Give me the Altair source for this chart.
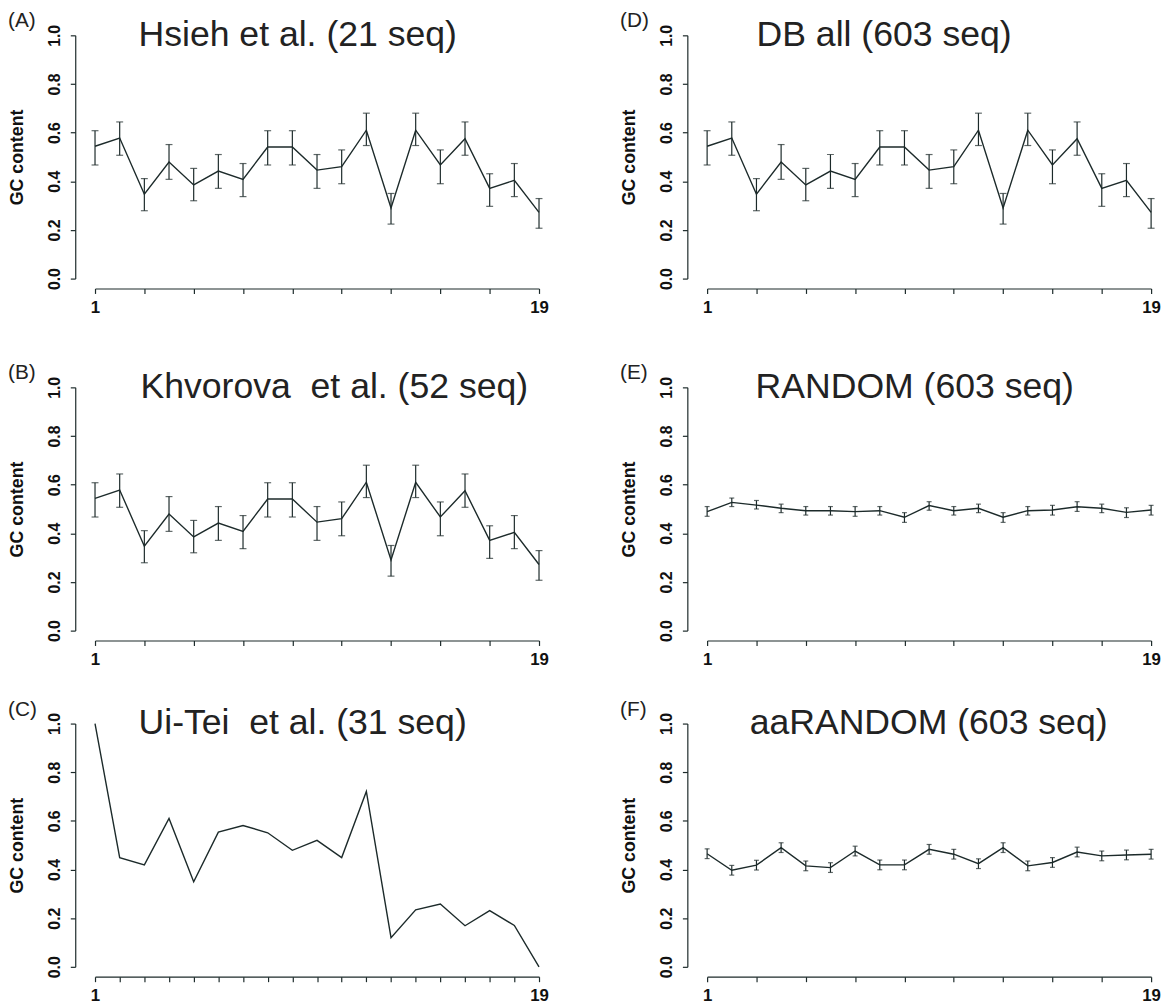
import altair as alt
import pandas as pd

# ---------------- data ----------------
positions = list(range(1, 20))

panel_letters = ["(A)", "(B)", "(C)", "(D)", "(E)", "(F)"]
panel_titles = [
    "Hsieh et al. (21 seq)",
    "Khvorova\u00a0 et al. (52 seq)",
    "Ui-Tei\u00a0 et al. (31 seq)",
    "DB all (603 seq)",
    "RANDOM (603 seq)",
    "aaRANDOM (603 seq)",
]

# (A) Hsieh et al.
hsieh_mean = [0.544, 0.578, 0.347, 0.479, 0.385, 0.442, 0.408, 0.541, 0.541, 0.446,
              0.460, 0.610, 0.290, 0.610, 0.467, 0.575, 0.371, 0.404, 0.272]
hsieh_low = [0.467, 0.507, 0.279, 0.408, 0.320, 0.371, 0.337, 0.467, 0.467, 0.371,
             0.390, 0.547, 0.224, 0.547, 0.390, 0.507, 0.297, 0.337, 0.207]
hsieh_high = [0.608, 0.644, 0.411, 0.551, 0.453, 0.510, 0.473, 0.608, 0.608, 0.510,
              0.529, 0.680, 0.350, 0.680, 0.529, 0.644, 0.431, 0.473, 0.329]

# (B) Khvorova et al. (drawn identical to A in the figure)
khvorova_mean = [0.544, 0.578, 0.347, 0.479, 0.385, 0.442, 0.408, 0.541, 0.541, 0.446,
                 0.460, 0.610, 0.290, 0.610, 0.467, 0.575, 0.371, 0.404, 0.272]
khvorova_low = [0.467, 0.507, 0.279, 0.408, 0.320, 0.371, 0.337, 0.467, 0.467, 0.371,
                0.390, 0.547, 0.224, 0.547, 0.390, 0.507, 0.297, 0.337, 0.207]
khvorova_high = [0.608, 0.644, 0.411, 0.551, 0.453, 0.510, 0.473, 0.608, 0.608, 0.510,
                 0.529, 0.680, 0.350, 0.680, 0.529, 0.644, 0.431, 0.473, 0.329]

# (C) Ui-Tei et al. (no error bars)
uitei_mean = [1.000, 0.449, 0.419, 0.610, 0.350, 0.554, 0.581, 0.551, 0.479, 0.520,
              0.449, 0.721, 0.120, 0.234, 0.258, 0.169, 0.231, 0.170, 0.000]

# (D) DB all
dball_mean = [0.544, 0.578, 0.347, 0.479, 0.385, 0.442, 0.408, 0.541, 0.541, 0.446,
              0.460, 0.610, 0.290, 0.610, 0.467, 0.575, 0.371, 0.404, 0.272]
dball_low = [0.467, 0.507, 0.279, 0.408, 0.320, 0.371, 0.337, 0.467, 0.467, 0.371,
             0.390, 0.547, 0.224, 0.547, 0.390, 0.507, 0.297, 0.337, 0.207]
dball_high = [0.608, 0.644, 0.411, 0.551, 0.453, 0.510, 0.473, 0.608, 0.608, 0.510,
              0.529, 0.680, 0.350, 0.680, 0.529, 0.644, 0.431, 0.473, 0.329]

# (E) RANDOM
random_mean = [0.489, 0.527, 0.516, 0.503, 0.493, 0.493, 0.489, 0.493, 0.466, 0.514,
               0.493, 0.503, 0.466, 0.493, 0.496, 0.509, 0.503, 0.486, 0.496]
random_low = [0.470, 0.510, 0.500, 0.485, 0.475, 0.475, 0.470, 0.475, 0.445, 0.495,
              0.475, 0.485, 0.445, 0.475, 0.475, 0.490, 0.485, 0.465, 0.475]
random_high = [0.510, 0.545, 0.535, 0.520, 0.510, 0.510, 0.510, 0.510, 0.485, 0.530,
               0.510, 0.520, 0.485, 0.510, 0.515, 0.530, 0.520, 0.505, 0.515]

# (F) aaRANDOM
aarandom_mean = [0.465, 0.397, 0.418, 0.490, 0.415, 0.408, 0.476, 0.419, 0.419, 0.483,
                 0.463, 0.424, 0.490, 0.415, 0.429, 0.472, 0.456, 0.460, 0.463]
aarandom_low = [0.445, 0.377, 0.398, 0.470, 0.395, 0.388, 0.456, 0.399, 0.399, 0.463,
                0.443, 0.404, 0.470, 0.395, 0.409, 0.452, 0.436, 0.440, 0.443]
aarandom_high = [0.485, 0.417, 0.438, 0.510, 0.435, 0.428, 0.496, 0.439, 0.439, 0.503,
                 0.483, 0.444, 0.510, 0.435, 0.449, 0.492, 0.476, 0.480, 0.483]

y_ticks = [0.0, 0.2, 0.4, 0.6, 0.8, 1.0]

# ---------------- styling ----------------
INK = "#1c2a2a"
FONT = "Liberation Sans"
PW, PH = 449, 246
title_dx = [44, 46, 44, 50, 49, 43]


def panel(idx, mean, low=None, high=None, cap=7):
    df = pd.DataFrame({"pos": positions, "gc": mean})
    if low is not None:
        df["lo"] = low
        df["hi"] = high

    x = alt.X(
        "pos:Q",
        scale=alt.Scale(domain=[1, 19], nice=False, zero=False),
        axis=alt.Axis(
            values=positions,
            labelExpr="datum.value == 1 || datum.value == 19 ? datum.label : ''",
            title=None,
        ),
    )
    y = alt.Y(
        "gc:Q",
        scale=alt.Scale(domain=[0, 1], nice=False, zero=False),
        axis=alt.Axis(values=y_ticks, format=".1f", title="GC content"),
    )
    base = alt.Chart(df)
    layers = [base.mark_line(color=INK, strokeWidth=1.4).encode(x=x, y=y)]
    if low is not None:
        layers.append(
            base.mark_rule(color=INK, strokeWidth=1.2).encode(
                x="pos:Q", y="lo:Q", y2="hi:Q"
            )
        )
        layers.append(
            base.mark_tick(color=INK, orient="horizontal", size=cap, thickness=1.2).encode(
                x="pos:Q", y="lo:Q"
            )
        )
        layers.append(
            base.mark_tick(color=INK, orient="horizontal", size=cap, thickness=1.2).encode(
                x="pos:Q", y="hi:Q"
            )
        )
    letter = alt.Chart(pd.DataFrame({"t": [panel_letters[idx]]})).mark_text(
        align="left", baseline="middle", fontSize=21, font=FONT, color="#222222"
    ).encode(text="t:N", x=alt.value(-88), y=alt.value(-14))
    ttl = alt.Chart(pd.DataFrame({"t": [panel_titles[idx]]})).mark_text(
        align="left", baseline="alphabetic", fontSize=36, font=FONT, color="#222222"
    ).encode(text="t:N", x=alt.value(title_dx[idx]), y=alt.value(11))
    layers += [letter, ttl]
    return alt.layer(*layers).properties(width=PW, height=PH)


pA = panel(0, hsieh_mean, hsieh_low, hsieh_high)
pB = panel(1, khvorova_mean, khvorova_low, khvorova_high)
pC = panel(2, uitei_mean)
pD = panel(3, dball_mean, dball_low, dball_high)
pE = panel(4, random_mean, random_low, random_high, cap=5)
pF = panel(5, aarandom_mean, aarandom_low, aarandom_high, cap=5)

row1 = alt.hconcat(pA, pD, spacing=72)
row2 = alt.hconcat(pB, pE, spacing=72)
row3 = alt.hconcat(pC, pF, spacing=72)

chart = alt.vconcat(
    alt.vconcat(row1, row2, spacing=48),
    row3,
    spacing=32,
).properties(
    padding={"left": 0, "top": -3, "right": 0, "bottom": 0},
    background="white",
).configure_view(
    stroke=None
).configure_axis(
    grid=False,
    domainColor=INK,
    tickColor=INK,
    labelColor="#111111",
    titleColor="#111111",
    labelFont=FONT,
    titleFont=FONT,
    domainWidth=1.2,
    tickWidth=1.2,
).configure_axisX(
    offset=10,
    tickSize=5,
    labelPadding=6,
    labelFontSize=17,
    labelFontWeight="bold",
    labelFlush=False,
    labelOverlap=False,
).configure_axisY(
    offset=20,
    tickSize=5,
    labelPadding=8,
    labelFontSize=16,
    labelFontWeight="bold",
    labelAngle=270,
    labelAlign="center",
    labelBaseline="bottom",
    titleFontSize=18,
    titleFontWeight="bold",
    titlePadding=20,
)

chart.save("out.html", embed_options={"renderer": "svg", "actions": False})
